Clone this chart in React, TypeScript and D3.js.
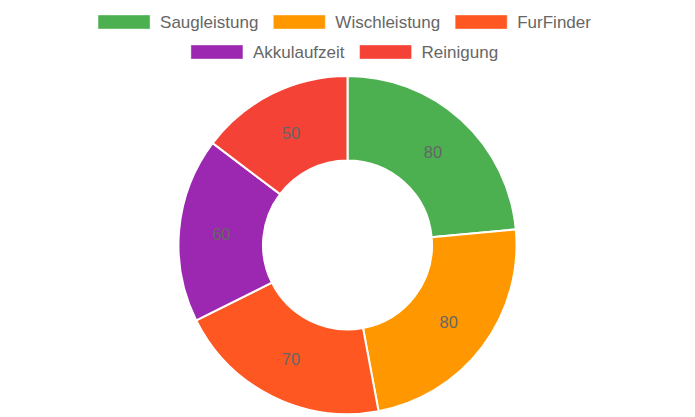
import React from "react";
import * as d3 from "d3";

const labels = ["Saugleistung", "Wischleistung", "FurFinder", "Akkulaufzeit", "Reinigung"];
const values = [80, 80, 70, 60, 50];
const colors = ["#4CAF50", "#FF9800", "#FF5722", "#9C27B0", "#F44336"];
const legendRows = [[0, 1, 2], [3, 4]];

const W = 695;
const H = 417;
const FONT = "'Liberation Sans', Arial, Helvetica, sans-serif";
const legendFontSize = 17;
const labelFontSize = 16.5;

function measure(text: string, size: number) {
  const c = document.createElement("canvas").getContext("2d")!;
  c.font = `${size}px ${FONT}`;
  return c.measureText(text).width;
}

export default function App() {
  const cx = W / 2;
  const cy = 245;
  const outer = 169;
  const inner = 84.5;
  const pie = d3.pie<number>().sort(null).value((d) => d)(values);
  const arc = d3.arc<d3.PieArcDatum<number>>().innerRadius(inner).outerRadius(outer);
  const labelArc = d3.arc<d3.PieArcDatum<number>>().innerRadius((inner + outer) / 2).outerRadius((inner + outer) / 2);

  const boxW = 52;
  const boxH = 14;
  const boxGap = 10;
  const itemGap = 15;
  const rowY = [22, 52];
  const legendCx = 344.5;

  return (
    <svg width={W} height={H} style={{ position: "absolute", left: 0, top: 0 }} fontFamily={FONT}>
      <g transform={`translate(${cx},${cy})`}>
        {pie.map((p, i) => (
          <path key={i} d={arc(p)!} fill={colors[i]} stroke="#fff" strokeWidth={2} />
        ))}
        {pie.map((p, i) => {
          const [x, y] = labelArc.centroid(p);
          return (
            <text key={i} x={x} y={y + 1} textAnchor="middle" dominantBaseline="central" fontSize={labelFontSize} fill="#666">
              {values[i]}
            </text>
          );
        })}
      </g>
      {legendRows.map((row, r) => {
        const widths = row.map((i) => boxW + boxGap + measure(labels[i], legendFontSize));
        const total = d3.sum(widths) + itemGap * (row.length - 1);
        let x = legendCx - total / 2;
        return row.map((i, k) => {
          const x0 = x;
          x += widths[k] + itemGap;
          return (
            <g key={i}>
              <rect x={x0 + 0.5} y={rowY[r] - boxH / 2 + 0.5} width={boxW - 1} height={boxH - 1} fill={colors[i]} stroke={colors[i]} strokeOpacity={0.6} strokeWidth={1} />
              <text x={x0 + boxW + boxGap} y={rowY[r]} dominantBaseline="central" fontSize={legendFontSize} fill="#666">
                {labels[i]}
              </text>
            </g>
          );
        });
      })}
    </svg>
  );
}
